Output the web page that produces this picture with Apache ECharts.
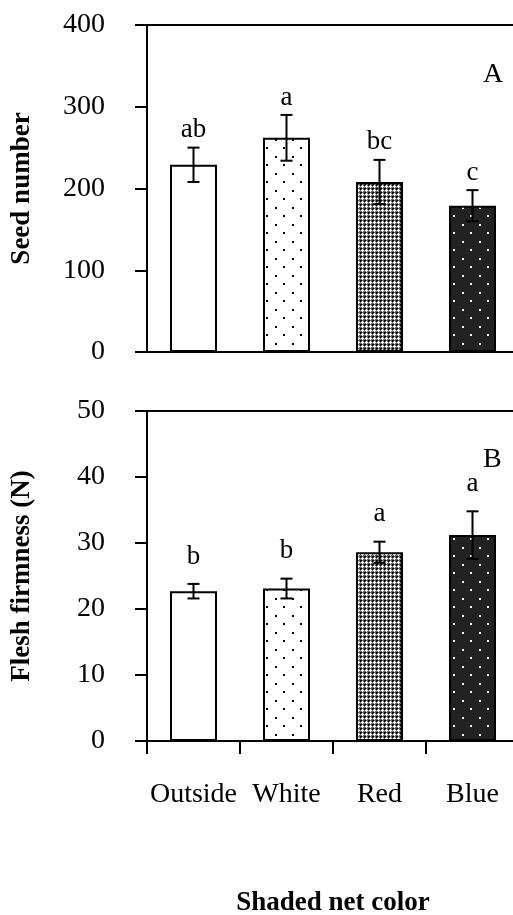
<!DOCTYPE html>
<html>
<head>
<meta charset="utf-8">
<script src="https://cdn.jsdelivr.net/npm/echarts@6/dist/echarts.min.js"></script>
<style>html,body{margin:0;padding:0;background:#fff;}#c{width:513px;height:915px;}</style>
</head>
<body>
<div id="c"></div>
<script>
const categories = ['Outside', 'White', 'Red', 'Blue'];
const seedMean = [229, 262, 208, 179];
const seedErr = [21, 28, 27, 19];
const seedLetters = ['ab', 'a', 'bc', 'c'];
const firmMean = [22.7, 23.1, 28.6, 31.2];
const firmErr = [1.1, 1.5, 1.6, 3.6];
const firmLetters = ['b', 'b', 'a', 'a'];
const seedTicks = [0, 100, 200, 300, 400];
const firmTicks = [0, 10, 20, 30, 40, 50];

const FONT = 'Liberation Serif';

function makeTile(w, h, draw) {
  const c = document.createElement('canvas');
  c.width = w; c.height = h;
  const g = c.getContext('2d');
  draw(g);
  return { image: c, repeat: 'repeat' };
}
const patWhite = '#ffffff';
const patDots = makeTile(17, 17, g => {
  g.fillStyle = '#fff'; g.fillRect(0, 0, 17, 17);
  g.fillStyle = '#000';
  g.fillRect(3, 3, 2, 2); g.fillRect(11, 11, 2, 2);
});
const patCross = makeTile(4, 4, g => {
  g.fillStyle = '#666'; g.fillRect(0, 0, 4, 4);
  g.fillStyle = '#000';
  g.fillRect(0, 0, 1, 1); g.fillRect(0, 1, 1, 1); g.fillRect(1, 0, 1, 1);
  g.fillStyle = '#fff';
  g.fillRect(2, 2, 1, 1); g.fillRect(1, 2, 1, 1); g.fillRect(3, 2, 1, 1);
  g.fillRect(2, 1, 1, 1); g.fillRect(2, 3, 1, 1);
});
const patBlack = makeTile(17, 17, g => {
  g.fillStyle = '#222'; g.fillRect(0, 0, 17, 17);
  g.fillStyle = '#fff';
  g.fillRect(3, 3, 2, 2); g.fillRect(11, 11, 2, 2);
});
const patterns = [patWhite, patDots, patCross, patBlack];

function barData(vals) {
  return vals.map((v, i) => ({
    value: v,
    itemStyle: { color: patterns[i], borderColor: '#000', borderWidth: 2 }
  }));
}
function errData(mean, err, letters) {
  return mean.map((m, i) => [i, m - err[i], m + err[i], letters[i]]);
}
function errRender(letterGap) {
  return function (params, api) {
    const i = api.value(0);
    const lo = api.coord([i, api.value(1)]);
    const hi = api.coord([i, api.value(2)]);
    const cap = 6;
    const st = { stroke: '#000', lineWidth: 2 };
    return {
      type: 'group',
      children: [
        { type: 'line', shape: { x1: hi[0], y1: hi[1], x2: lo[0], y2: lo[1] }, style: st },
        { type: 'line', shape: { x1: hi[0] - cap, y1: hi[1], x2: hi[0] + cap, y2: hi[1] }, style: st },
        { type: 'line', shape: { x1: lo[0] - cap, y1: lo[1], x2: lo[0] + cap, y2: lo[1] }, style: st },
        { type: 'text', x: hi[0], y: hi[1] - letterGap,
          style: { text: api.value(3), fill: '#000', font: '27px "' + FONT + '"',
                   align: 'center', verticalAlign: 'bottom' } }
      ]
    };
  };
}

const axisLine = { show: true, lineStyle: { color: '#000', width: 2 } };
const labelStyle = { color: '#000', fontFamily: FONT, fontSize: 28 };

const chart = echarts.init(document.getElementById('c'));
chart.setOption({
  animation: false,
  backgroundColor: '#fff',
  textStyle: { fontFamily: FONT },
  title: [
    { text: 'A', left: 478, top: 56, textStyle: { fontFamily: FONT, fontSize: 28, fontWeight: 'normal', color: '#000' } },
    { text: 'B', left: 478, top: 441, textStyle: { fontFamily: FONT, fontSize: 28, fontWeight: 'normal', color: '#000' } }
  ],
  grid: [
    { left: 147, top: 25, right: -6, height: 327, outerBoundsMode: 'none', containLabel: false,
      show: true, borderColor: '#000', borderWidth: 2, backgroundColor: 'transparent' },
    { left: 147, top: 411, right: -6, height: 330, outerBoundsMode: 'none', containLabel: false,
      show: true, borderColor: '#000', borderWidth: 2, backgroundColor: 'transparent' }
  ],
  xAxis: [
    { type: 'category', gridIndex: 0, data: categories, axisLine: axisLine,
      axisTick: { show: false }, axisLabel: { show: false } },
    { type: 'category', gridIndex: 1, data: categories, axisLine: axisLine,
      axisTick: { show: true, interval: 0, length: 13, lineStyle: { color: '#000', width: 2 } },
      axisLabel: Object.assign({ margin: 40, interval: 0, hideOverlap: false }, labelStyle),
      name: 'Shaded net color', nameLocation: 'middle', nameGap: 149,
      nameTextStyle: { color: '#000', fontFamily: FONT, fontSize: 27, fontWeight: 'bold' } }
  ],
  yAxis: [
    { type: 'value', gridIndex: 0, min: seedTicks[0], max: seedTicks[seedTicks.length - 1], interval: 100,
      axisLine: axisLine, splitLine: { show: false },
      axisTick: { show: true, length: 12, lineStyle: { color: '#000', width: 2 } },
      axisLabel: Object.assign({ margin: 42 }, labelStyle),
      name: 'Seed number', nameLocation: 'middle', nameGap: 111,
      nameTextStyle: { color: '#000', fontFamily: FONT, fontSize: 27, fontWeight: 'bold' } },
    { type: 'value', gridIndex: 1, min: firmTicks[0], max: firmTicks[firmTicks.length - 1], interval: 10,
      axisLine: axisLine, splitLine: { show: false },
      axisTick: { show: true, length: 12, lineStyle: { color: '#000', width: 2 } },
      axisLabel: Object.assign({ margin: 42 }, labelStyle),
      name: 'Flesh firmness (N)', nameLocation: 'middle', nameGap: 111,
      nameTextStyle: { color: '#000', fontFamily: FONT, fontSize: 27, fontWeight: 'bold' } }
  ],
  series: [
    { type: 'bar', xAxisIndex: 0, yAxisIndex: 0, barWidth: 47, data: barData(seedMean) },
    { type: 'custom', xAxisIndex: 0, yAxisIndex: 0, renderItem: errRender(4), data: errData(seedMean, seedErr, seedLetters), z: 5 },
    { type: 'bar', xAxisIndex: 1, yAxisIndex: 1, barWidth: 47, data: barData(firmMean) },
    { type: 'custom', xAxisIndex: 1, yAxisIndex: 1, renderItem: errRender(14), data: errData(firmMean, firmErr, firmLetters), z: 5 }
  ]
});
</script>
</body>
</html>
